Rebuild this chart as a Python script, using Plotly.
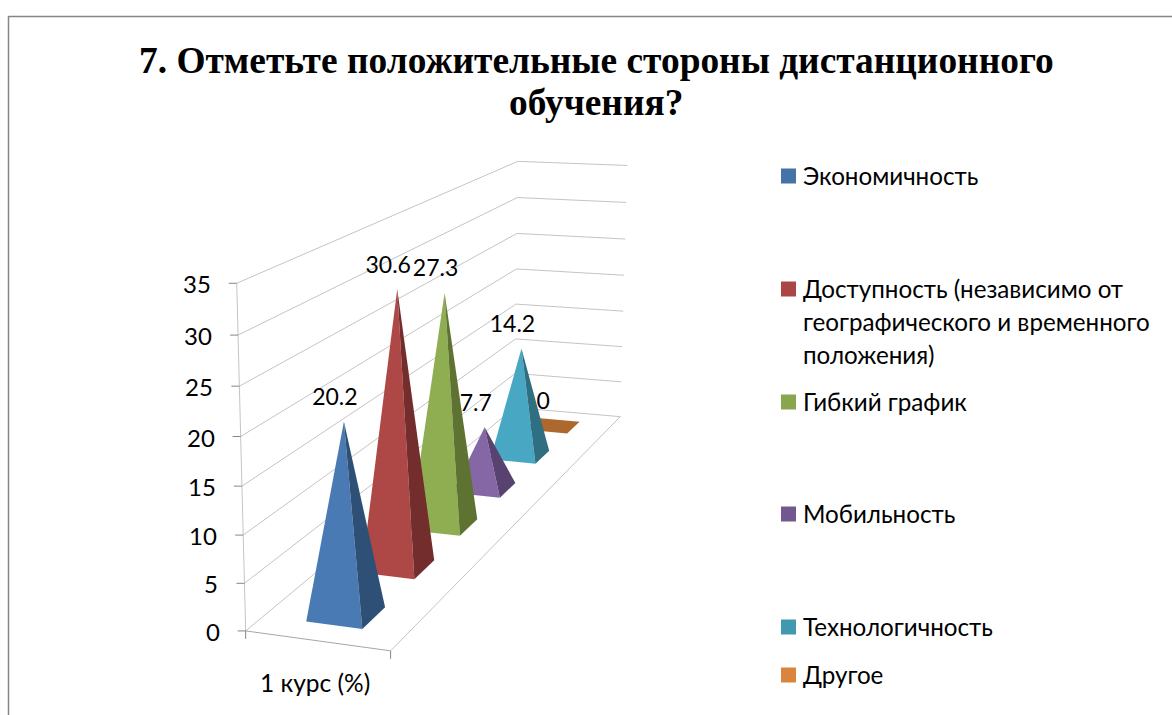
import numpy as np
import plotly.graph_objects as go

W, H = 1172, 715

# --- data ---
categories = ["Экономичность", "Доступность", "Гибкий график", "Мобильность", "Технологичность", "Другое"]
values = [20.2, 30.6, 27.3, 7.7, 14.2, 0]
value_ticks = [0, 5, 10, 15, 20, 25, 30, 35]
group_label = "1 курс (%)"
title_lines = ["7. Отметьте положительные стороны дистанционного", "обучения?"]
legend_lines = [
    ["Экономичность"],
    ["Доступность (независимо от", "географического и временного", "положения)"],
    ["Гибкий график"],
    ["Мобильность"],
    ["Технологичность"],
    ["Другое"],
]

# --- style ---
face_colors = ["#4A7AB3", "#AE4846", "#8FAE52", "#8567A5", "#48A8C3", "#AD682E"]
side_colors = ["#2E5077", "#732D2C", "#5E7331", "#584270", "#2E6F82", "#AD682E"]
legend_colors = ["#4572A7", "#AA4643", "#89A54E", "#71588F", "#4198AF", "#DB843D"]
legend_y = [176, 289, 402, 514, 627, 675]
LABEL_FONT = "Lato, Carlito, Calibri, sans-serif"
GRID = "#C4C4C4"
AXIS = "#A6A6A6"
TICK = "#868686"

# --- camera: fitted to the corners of the 3D box (u across, v depth, z value) ---
ZMAX = 35
box_corners = [
    ((0, 0, 0), (246, 631)), ((1, 0, 0), (390, 651)), ((0, 1, 0), (515, 408)),
    ((1, 1, 0), (620, 416)), ((0, 0, ZMAX), (237, 283)), ((0, 1, ZMAX), (517, 161)),
    ((1, 1, ZMAX), (628, 166)),
]
rows, rhs = [], []
for (u, v, z), (px, py) in box_corners:
    rows.append([u, v, z, 1, 0, 0, 0, 0, -px * u, -px * v, -px * z]); rhs.append(px)
    rows.append([0, 0, 0, 0, u, v, z, 1, -py * u, -py * v, -py * z]); rhs.append(py)
sol = np.linalg.lstsq(np.array(rows, float), np.array(rhs, float), rcond=None)[0]
P = np.append(sol, 1.0).reshape(3, 4)


def proj(u, v, z):
    q = P @ np.array([u, v, z, 1.0])
    return q[0] / q[2], q[1] / q[2]


def poly(points, color):
    xs, ys = zip(*points)
    return go.Scatter(x=list(xs) + [xs[0]], y=list(ys) + [ys[0]], mode="lines", fill="toself",
                      fillcolor=color, line=dict(width=0, color=color), hoverinfo="skip", showlegend=False)


def polyline(points, color, width=1):
    xs, ys = zip(*points)
    return go.Scatter(x=list(xs), y=list(ys), mode="lines", line=dict(color=color, width=width),
                      hoverinfo="skip", showlegend=False)


fig = go.Figure()

# walls: gridlines
for t in value_ticks:
    fig.add_trace(polyline([proj(0, 0, t), proj(0, 1, t), proj(1, 1, t)], GRID))
fig.add_trace(polyline([proj(0, 0, 0), proj(0, 0, ZMAX)], GRID))
fig.add_trace(polyline([proj(0, 0, 0), proj(1, 0, 0)], AXIS))
fig.add_trace(polyline([proj(1, 0, 0), proj(1, 1, 0)], GRID))

# axis ticks and labels
annotations = []
for t in value_ticks:
    x, y = proj(0, 0, t)
    fig.add_trace(polyline([(x - 8, y), (x, y)], TICK))
    annotations.append(dict(x=x - 24, y=y + 0.5, text=str(t), xanchor="right", yanchor="middle", showarrow=False,
                            font=dict(family=LABEL_FONT, size=24, color="#000")))
for u in (0, 1):
    x, y = proj(u, 0, 0)
    fig.add_trace(polyline([(x, y), (x, y + 8)], TICK))
mx, my = proj(0.5, 0, 0)
annotations.append(dict(x=mx - 2, y=my + 42, text=group_label, xanchor="center", yanchor="middle", showarrow=False,
                        font=dict(family=LABEL_FONT, size=24.5, color="#000")))

# pyramids, back to front; each label belongs to its pyramid's layer
UC, HU = 0.5, 0.197
HV = 0.035
n = len(values)
for i in reversed(range(n)):
    vc = (i + 0.5) / n
    fl = proj(UC - HU, vc - HV, 0)
    fr = proj(UC + HU, vc - HV, 0)
    br = proj(UC + HU, vc + HV, 0)
    bl = proj(UC - HU, vc + HV, 0)
    top = proj(UC, vc, values[i])
    if values[i] == 0:
        fig.add_trace(poly([fl, fr, br, bl], face_colors[i]))
    else:
        fig.add_trace(poly([fl, fr, top], face_colors[i]))
        fig.add_trace(poly([fr, br, top], side_colors[i]))
    fig.add_trace(go.Scatter(x=[top[0] - 9], y=[top[1] - 22], mode="text", text=[f"{values[i]:g}"],
                             textposition="middle center", hoverinfo="skip", showlegend=False,
                             textfont=dict(family=LABEL_FONT, size=23, color="#000")))

# legend
for color, y, lines in zip(legend_colors, legend_y, legend_lines):
    fig.add_trace(go.Scatter(x=[788.5], y=[y], mode="markers", hoverinfo="skip", showlegend=False,
                             marker=dict(symbol="square", size=15, color=color, line=dict(width=0))))
    for k, line in enumerate(lines):
        annotations.append(dict(x=801, y=y - 1 + 33 * k, text=line, xanchor="left", yanchor="middle", showarrow=False,
                                font=dict(family=LABEL_FONT, size=24.2, color="#000")))

# title
for line, y in zip(title_lines, [60, 102]):
    annotations.append(dict(x=596, y=y, text=f"<b>{line}</b>", xanchor="center", yanchor="middle", showarrow=False,
                            font=dict(family="Liberation Serif, Times New Roman, serif", size=37.4, color="#000")))

# chart frame
shapes = [
    dict(type="line", x0=8.5, x1=8.5, y0=16, y1=H, line=dict(color="#868686", width=1.5)),
    dict(type="line", x0=8.5, x1=W, y0=16.5, y1=16.5, line=dict(color="#868686", width=1.5)),
]

fig.update_layout(
    width=W, height=H, margin=dict(l=0, r=0, t=0, b=0), paper_bgcolor="#fff", plot_bgcolor="#fff",
    xaxis=dict(range=[0, W], visible=False, fixedrange=True),
    yaxis=dict(range=[H, 0], visible=False, fixedrange=True),
    showlegend=False, annotations=annotations, shapes=shapes,
)
fig.write_html("out.html", config={"displayModeBar": False},
               post_script="document.body.style.margin='0';document.body.style.overflow='hidden';")
